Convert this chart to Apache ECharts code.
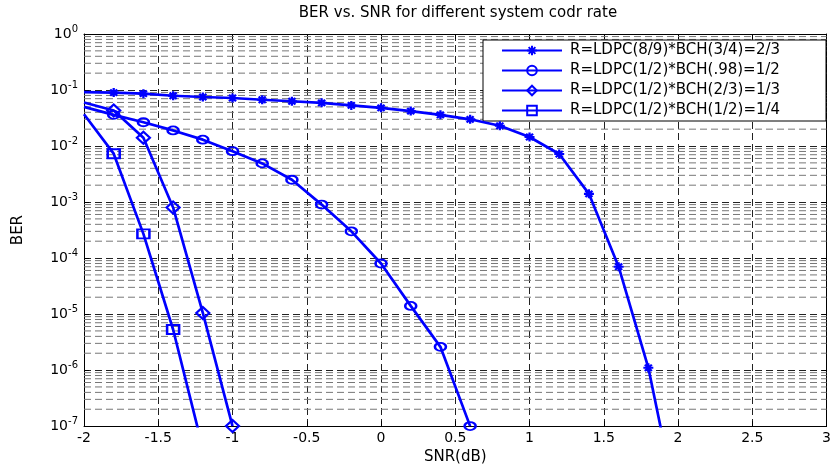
<!DOCTYPE html>
<html>
<head>
<meta charset="utf-8">
<script src="https://cdn.jsdelivr.net/npm/echarts@6/dist/echarts.min.js"></script>
<style>
html,body{margin:0;padding:0;background:#fff;}
#chart{width:834px;height:470px;}
</style>
</head>
<body>
<div id="chart"></div>
<script>
// 曲线数据，SNR(dB) / BER
var snrR23 = [-2, -1.8, -1.6, -1.4, -1.2, -1.0, -0.8, -0.6, -0.4, -0.2, 0, 0.2, 0.4, 0.6, 0.8, 1.0, 1.2, 1.4, 1.6, 1.8, 2.0];
var berR23 = [0.092, 0.090, 0.086, 0.079, 0.075, 0.072, 0.067, 0.063, 0.059, 0.053, 0.048, 0.042, 0.036, 0.030, 0.023, 0.0145, 0.0072, 0.0014, 7.0e-5, 1.1e-6, 3e-9];

var snrR12 = [-2, -1.8, -1.6, -1.4, -1.2, -1.0, -0.8, -0.6, -0.4, -0.2, 0, 0.2, 0.4, 0.6];
var berR12 = [0.050, 0.036, 0.0266, 0.019, 0.013, 0.0081, 0.0049, 0.0025, 9.0e-4, 3.0e-4, 8.0e-5, 1.4e-5, 2.6e-6, 1e-7];

var snrR13 = [-2, -1.8, -1.6, -1.4, -1.2, -1.0];
var berR13 = [0.060, 0.043, 0.014, 8.0e-4, 1.05e-5, 1e-7];

var snrR14 = [-2, -1.8, -1.6, -1.4, -1.2];
var berR14 = [0.037, 0.0073, 2.7e-4, 5.3e-6, 4e-8];

var seriesNames = [
	'R=LDPC(8/9)*BCH(3/4)=2/3',
	'R=LDPC(1/2)*BCH(.98)=1/2',
	'R=LDPC(1/2)*BCH(2/3)=1/3',
	'R=LDPC(1/2)*BCH(1/2)=1/4'
];

// 对数坐标次网格 2..9
var minorMult = [2, 3, 4, 5, 6, 7, 8, 9];
var decades = [-7, -6, -5, -4, -3, -2, -1];

var FONT = 'DejaVu Sans';
var BLUE = '#0000ff';
var starPath = 'path://M5,0L5,10M0,5L10,5M1.5,1.5L8.5,8.5M1.5,8.5L8.5,1.5';

//x=-2处在左边界，不画marker
function makeData(xs, ys)
{
	var data = [];
	for (var i = 0; i < xs.length; i++)
	{
		if (xs[i] == -2)
		{
			data.push({value: [xs[i], ys[i]], symbol: 'none'});
		}
		else
		{
			data.push([xs[i], ys[i]]);
		}
	}
	return data;
}

function makeSerie(name, xs, ys, symbol, size, filled)
{
	return {
		name: name,
		type: 'line',
		z: 5,
		data: makeData(xs, ys),
		symbol: symbol,
		symbolSize: size,
		showAllSymbol: true,
		lineStyle: {color: BLUE, width: 2.7},
		itemStyle: {color: filled ? BLUE : 'transparent', borderColor: BLUE, borderWidth: 2.2},
		emphasis: {disabled: true}
	};
}

//次网格：每条横线两端点，中间用'-'断开
var minorData = [];
for (var d = 0; d < decades.length; d++)
{
	for (var m = 0; m < minorMult.length; m++)
	{
		var v = minorMult[m] * Math.pow(10, decades[d]);
		minorData.push([-2, v]);
		minorData.push([3, v]);
		minorData.push('-');
	}
}

var dash = [7, 4];
var boxLine = {show: true, onZero: false, lineStyle: {color: '#000', width: 1}};
var inTick = {show: true, inside: true, length: 5, lineStyle: {color: '#000'}};

var option = {
	backgroundColor: '#fff',
	animation: false,
	title: {
		text: 'BER vs. SNR for different system codr rate',
		left: 458,
		top: 6,
		textAlign: 'center',
		padding: 0,
		textStyle: {fontFamily: FONT, fontSize: 15, fontWeight: 'normal', color: '#000'}
	},
	grid: {left: 84, right: 2, top: 34, bottom: 42, containLabel: false},
	legend: {
		data: seriesNames,
		orient: 'vertical',
		left: 483,
		top: 40,
		backgroundColor: '#fff',
		borderColor: '#000',
		borderWidth: 1,
		borderRadius: 0,
		padding: [2, 6, 2, 18],
		itemWidth: 60,
		itemHeight: 12,
		itemGap: 3,
		selectedMode: false,
		textStyle: {fontFamily: FONT, fontSize: 15, color: '#000', lineHeight: 17, width: 250, padding: [0, 0, 0, 3]}
	},
	xAxis: [{
		type: 'value',
		min: -2,
		max: 3,
		interval: 0.5,
		position: 'bottom',
		name: 'SNR(dB)',
		nameLocation: 'middle',
		nameGap: 22,
		nameTextStyle: {fontFamily: FONT, fontSize: 15, color: '#000'},
		axisLine: boxLine,
		axisTick: inTick,
		axisLabel: {fontFamily: FONT, fontSize: 14, color: '#000', margin: 5, showMaxLabel: true},
		splitLine: {show: true, lineStyle: {color: '#222', type: dash, width: 1}}
	}, {
		type: 'value',
		min: -2,
		max: 3,
		interval: 0.5,
		position: 'top',
		axisLine: boxLine,
		axisTick: inTick,
		axisLabel: {show: false},
		splitLine: {show: false}
	}],
	yAxis: [{
		type: 'log',
		logBase: 10,
		min: 1e-7,
		max: 1,
		splitNumber: 7,
		position: 'left',
		name: 'BER',
		nameLocation: 'middle',
		nameGap: 58,
		nameRotate: 90,
		nameTextStyle: {fontFamily: FONT, fontSize: 15, color: '#000'},
		axisLine: boxLine,
		axisTick: inTick,
		axisLabel: {
			margin: 6,
			color: '#000',
			formatter: function (value)
			{
				var e = Math.round(Math.log10(value));
				return '{b|10}{s|' + e + '}';
			},
			rich: {
				b: {fontFamily: FONT, fontSize: 14, color: '#000'},
				s: {fontFamily: FONT, fontSize: 10, color: '#000', padding: [0, 0, 10, 0]}
			}
		},
		splitLine: {show: true, lineStyle: {color: '#222', type: dash, width: 1}}
	}, {
		type: 'log',
		logBase: 10,
		min: 1e-7,
		max: 1,
		splitNumber: 7,
		position: 'right',
		axisLine: boxLine,
		axisTick: inTick,
		axisLabel: {show: false},
		splitLine: {show: false}
	}],
	series: [
		{
			name: 'minor-grid',
			type: 'line',
			z: 1,
			silent: true,
			symbol: 'none',
			connectNulls: false,
			data: minorData,
			lineStyle: {color: '#777', type: dash, width: 1},
			emphasis: {disabled: true},
			tooltip: {show: false}
		},
		makeSerie(seriesNames[0], snrR23, berR23, starPath, [10, 9], true),
		makeSerie(seriesNames[1], snrR12, berR12, 'circle', [11, 8], false),
		makeSerie(seriesNames[2], snrR13, berR13, 'diamond', [13, 12], false),
		makeSerie(seriesNames[3], snrR14, berR14, 'rect', [12, 9], false)
	]
};

var myChart = echarts.init(document.getElementById('chart'), null, {renderer: 'canvas'});
myChart.setOption(option);
</script>
</body>
</html>
